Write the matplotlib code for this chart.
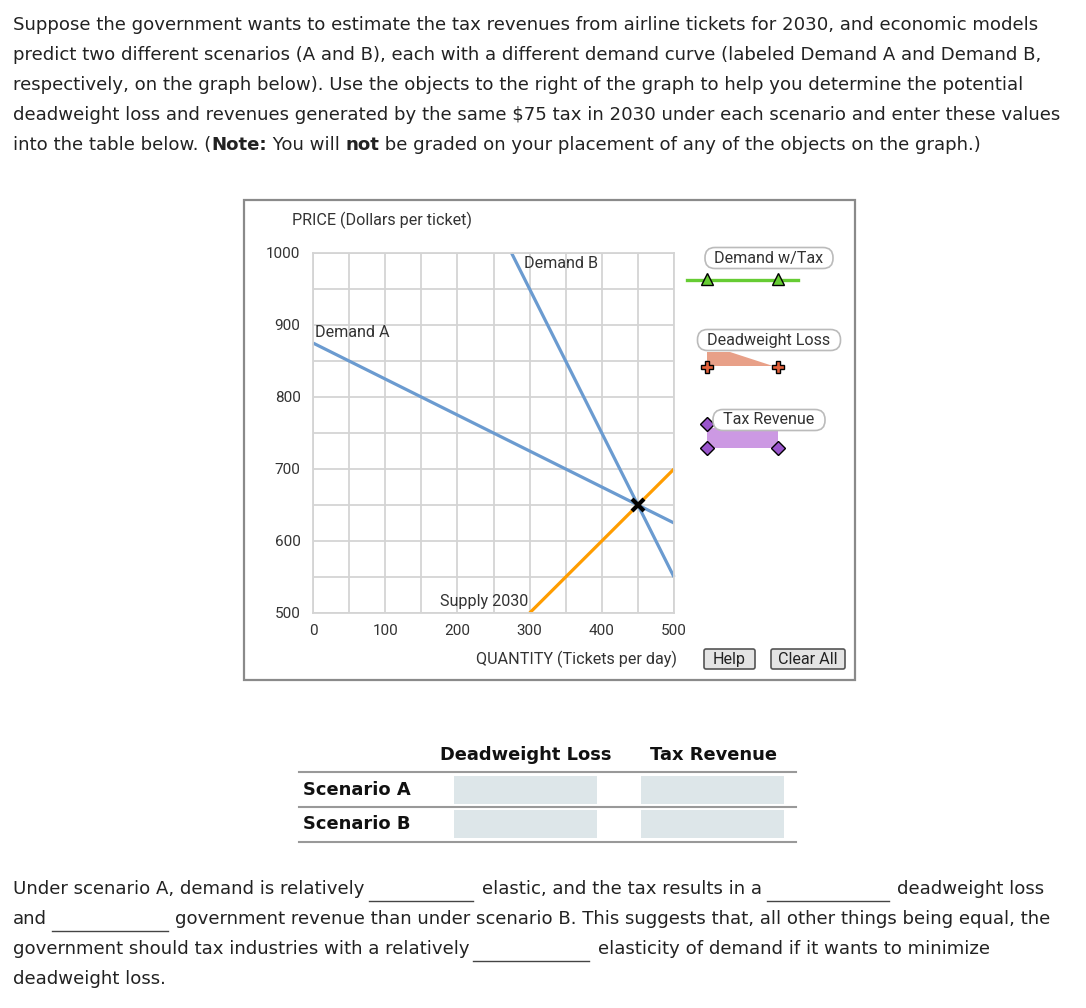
import matplotlib
matplotlib.use("Agg")
import matplotlib.pyplot as plt
from matplotlib.patches import FancyBboxPatch, Polygon, Rectangle

# ---------------- data ----------------
demand_a_q = [0, 500]
demand_a_p = [875, 625]
demand_b_q = [275, 500]
demand_b_p = [1000, 550]
supply_q = [300, 500]
supply_p = [500, 700]
equilibrium_q = [450]
equilibrium_p = [650]
x_ticks = [0, 100, 200, 300, 400, 500]
y_ticks = [500, 600, 700, 800, 900, 1000]
table_columns = ["Deadweight Loss", "Tax Revenue"]
table_rows = ["Scenario A", "Scenario B"]

W, H = 1086, 1008
fig = plt.figure(figsize=(W / 100, H / 100), dpi=100)
fig.patch.set_facecolor("white")

# overlay axes in pixel coordinates
ov = fig.add_axes([0, 0, 1, 1])
ov.set_xlim(0, W)
ov.set_ylim(H, 0)
ov.axis("off")

PROSE = "DejaVu Sans"
CHART = "Roboto"
fs_prose = 13.05
fs_chart = 11.6

intro = [
    "Suppose the government wants to estimate the tax revenues from airline tickets for 2030, and economic models",
    "predict two different scenarios (A and B), each with a different demand curve (labeled Demand A and Demand B,",
    "respectively, on the graph below). Use the objects to the right of the graph to help you determine the potential",
    "deadweight loss and revenues generated by the same $75 tax in 2030 under each scenario and enter these values",
]
for i, line in enumerate(intro):
    ov.text(13, 25 + 30 * i, line, fontsize=fs_prose, family=PROSE, va="center", ha="left", color="#222222")
# last intro line with bold words
y5 = 145
parts = [("into the table below. (", "normal"), ("Note:", "bold"), (" You will ", "normal"),
         ("not", "bold"), (" be graded on your placement of any of the objects on the graph.)", "normal")]
fig.canvas.draw()
renderer = fig.canvas.get_renderer()
x = 13
for txt_, wt in parts:
    t = ov.text(x, y5, txt_, fontsize=fs_prose, family=PROSE, weight=wt, va="center", ha="left", color="#222222")
    bb = t.get_window_extent(renderer=renderer)
    x += bb.width

# outer graph box
ov.add_patch(Rectangle((244, 200), 611, 480, fill=False, edgecolor="#8a8a8a", lw=1.6))

# ---------------- chart axes ----------------
x0, x1, y0, y1 = 313, 674, 253, 613
ax = fig.add_axes([x0 / W, 1 - y1 / H, (x1 - x0) / W, (y1 - y0) / H])
ax.set_xlim(0, 500)
ax.set_ylim(500, 1000)
ax.set_xticks(x_ticks)
ax.set_yticks(y_ticks)
ax.set_xticks(range(50, 500, 100), minor=True)
ax.set_yticks(range(550, 1000, 100), minor=True)
ax.grid(True, which="both", color="#d4d4d4", lw=1.3)
ax.set_axisbelow(True)
for s in ax.spines.values():
    s.set_color("#d4d4d4")
    s.set_linewidth(1.3)
ax.tick_params(which="both", length=0)
ax.tick_params(axis="y", pad=9, labelsize=11, labelcolor="#333333")
ax.tick_params(axis="x", pad=8, labelsize=11, labelcolor="#333333")
for lab in ax.get_xticklabels() + ax.get_yticklabels():
    lab.set_family(CHART)

blue = "#6b9bd0"
ax.plot(demand_a_q, demand_a_p, color=blue, lw=2.3, clip_on=False, solid_capstyle="butt")
ax.plot(demand_b_q, demand_b_p, color=blue, lw=2.3, clip_on=False, solid_capstyle="butt")
ax.plot(supply_q, supply_p, color="#ff9d00", lw=2.3, clip_on=False, solid_capstyle="butt")
ax.plot(equilibrium_q, equilibrium_p, marker="x", color="black", ms=9, mew=3, ls="none", clip_on=False)

ax.text(3, 889, "Demand A", fontsize=fs_chart, family=CHART, color="#333333", ha="left", va="center")
ax.text(292, 985, "Demand B", fontsize=fs_chart, family=CHART, color="#333333", ha="left", va="center")
ax.text(298, 516, "Supply 2030", fontsize=fs_chart, family=CHART, color="#333333", ha="right", va="center")

ov.text(292, 220, "PRICE (Dollars per ticket)", fontsize=fs_chart, family=CHART, color="#333333", ha="left", va="center")
ov.text(677, 659, "QUANTITY (Tickets per day)", fontsize=fs_chart, family=CHART, color="#333333", ha="right", va="center")

# ---------------- palette ----------------
def label_box(cx, cy, w, h, text):
    ov.add_patch(FancyBboxPatch((cx - w / 2, cy - h / 2), w, h,
                                boxstyle="round,pad=0,rounding_size=10",
                                facecolor="white", edgecolor="#bbbbbb", lw=1.2, zorder=5))
    ov.text(cx, cy, text, fontsize=fs_chart, family=CHART, color="#333333", ha="center", va="center", zorder=6)

# Demand w/Tax
ov.plot([687, 798], [280, 280], color="#66cc33", lw=2.4, zorder=3)
ov.plot([707, 778], [278.5, 278.5], marker="^", ms=8, mfc="#66cc33", mec="black", mew=1, ls="none", zorder=4)
label_box(769, 258, 128, 21, "Demand w/Tax")

# Deadweight Loss
ov.add_patch(Polygon([(707, 352), (730, 352), (773, 366), (707, 366)], closed=True,
                     facecolor="#e8a088", edgecolor="none", zorder=3))
ov.plot([707, 778], [367, 367], marker="P", ms=9, mfc="#e2603a", mec="black", mew=1, ls="none", zorder=4)
label_box(769, 340, 143, 21, "Deadweight Loss")

# Tax Revenue
ov.add_patch(Rectangle((707, 428), 71, 20, facecolor="#cc99e3", edgecolor="none", zorder=3))
ov.plot([707, 707, 778], [424, 448, 448], marker="D", ms=7, mfc="#9a55cc", mec="black", mew=1, ls="none", zorder=4)
label_box(769, 420, 112, 21, "Tax Revenue")

# buttons
def button(x, y, w, h, text):
    ov.add_patch(FancyBboxPatch((x, y), w, h, boxstyle="round,pad=0,rounding_size=2",
                                facecolor="#e4e4e4", edgecolor="#555555", lw=1.2))
    ov.text(x + w / 2, y + h / 2 + 0.5, text, fontsize=fs_chart, family=CHART, color="#222222", ha="center", va="center")

button(704, 649, 51, 20, "Help")
button(771, 649, 74, 20, "Clear All")

# ---------------- table ----------------
col_cx = [526, 714]
for cx, name in zip(col_cx, table_columns):
    ov.text(cx, 755, name, fontsize=12.9, family=PROSE, weight="bold", ha="center", va="center", color="#111111")
for yy in [772, 807, 842]:
    ov.plot([299, 796], [yy, yy], color="#999999", lw=1.5)
for i, name in enumerate(table_rows):
    yc = 790 + 34 * i
    ov.text(303, yc, name, fontsize=12.9, family=PROSE, weight="bold", ha="left", va="center", color="#111111")
    for bx in [454, 641]:
        ov.add_patch(Rectangle((bx, yc - 14), 143, 28, facecolor="#dde6e9", edgecolor="none"))

# ---------------- bottom paragraph ----------------
def txt(x, y, s, ha="left"):
    ov.text(x, y, s, fontsize=fs_prose, family=PROSE, ha=ha, va="center", color="#222222")

def blank(xa, xb, y):
    ov.plot([xa, xb], [y + 12, y + 12], color="#444444", lw=1)

txt(13, 889, "Under scenario A, demand is relatively")
blank(369, 473, 889)
txt(482, 889, "elastic, and the tax results in a")
blank(767, 889, 889)
txt(1044, 889, "deadweight loss", ha="right")

txt(13, 919, "and")
blank(52, 168, 919)
txt(1050, 919, "government revenue than under scenario B. This suggests that, all other things being equal, the", ha="right")

txt(13, 949, "government should tax industries with a relatively")
blank(473, 589, 949)
txt(598, 949, "elasticity of demand if it wants to minimize")

txt(13, 979, "deadweight loss.")

fig.savefig("out.png", dpi=100, facecolor="white")
